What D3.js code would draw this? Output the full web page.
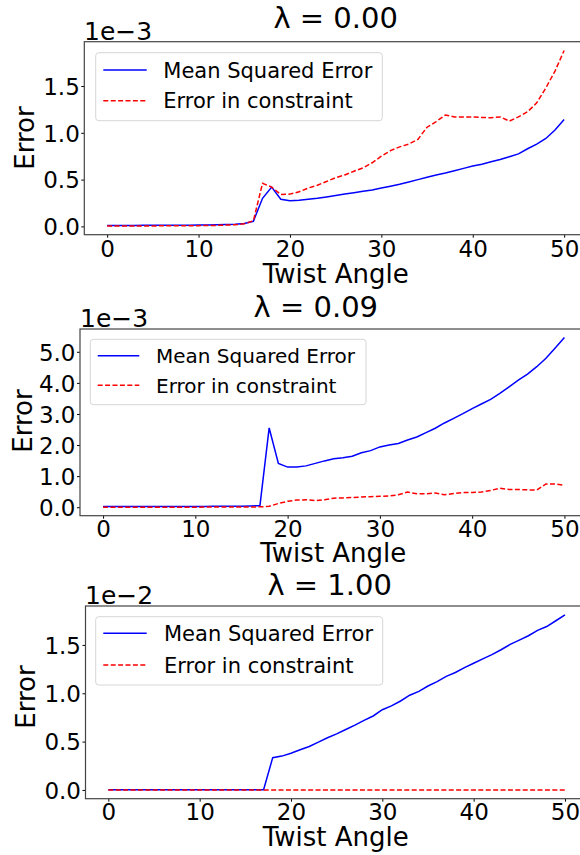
<!DOCTYPE html>
<html>
<head>
<meta charset="utf-8">
<script src="https://cdn.jsdelivr.net/npm/d3@7"></script>
<style>
  body { margin: 0; background: #fff; }
  svg { display: block; font-family: "DejaVu Sans", sans-serif; }
</style>
</head>
<body>
<svg id="chart" width="580" height="855"></svg>
<script>
// twist angles (x values), shared by all three panels
const angles = [0, 1, 2, 3, 4, 5, 6, 7, 8, 9, 10, 11, 12, 13, 14, 15, 16, 17, 18, 19, 20,
    21, 22, 23, 24, 25, 26, 27, 28, 29, 30, 31, 32, 33, 34, 35, 36, 37, 38, 39, 40,
    41, 42, 43, 44, 45, 46, 47, 48, 49, 50];

// lambda = 0.00, values in units of 1e-3
const mse000 = [0.010, 0.010, 0.010, 0.010, 0.011, 0.011, 0.012, 0.012, 0.013, 0.013, 0.014,
    0.015, 0.017, 0.019, 0.022, 0.030, 0.055, 0.300, 0.420, 0.290, 0.275,
    0.280, 0.290, 0.300, 0.315, 0.330, 0.345, 0.360, 0.375, 0.390, 0.410,
    0.430, 0.450, 0.475, 0.500, 0.525, 0.550, 0.570, 0.595, 0.620, 0.645,
    0.665, 0.690, 0.715, 0.745, 0.775, 0.830, 0.880, 0.940, 1.030, 1.143];
const con000 = [0.005, 0.005, 0.005, 0.005, 0.005, 0.005, 0.006, 0.006, 0.006, 0.007, 0.008,
    0.009, 0.011, 0.014, 0.018, 0.028, 0.060, 0.460, 0.420, 0.340, 0.345,
    0.370, 0.410, 0.440, 0.480, 0.520, 0.550, 0.590, 0.625, 0.680, 0.750,
    0.810, 0.850, 0.880, 0.930, 1.060, 1.120, 1.190, 1.170, 1.170, 1.170,
    1.165, 1.160, 1.170, 1.125, 1.170, 1.225, 1.320, 1.480, 1.660, 1.880];

// lambda = 0.09, values in units of 1e-3
const mse009 = [0.020, 0.020, 0.020, 0.020, 0.021, 0.021, 0.022, 0.022, 0.023, 0.024, 0.025,
    0.026, 0.027, 0.029, 0.031, 0.034, 0.040, 0.050, 2.550, 1.410, 1.290,
    1.290, 1.330, 1.410, 1.490, 1.560, 1.590, 1.640, 1.750, 1.820, 1.940,
    2.000, 2.050, 2.160, 2.260, 2.400, 2.540, 2.710, 2.860, 3.010, 3.170,
    3.320, 3.470, 3.660, 3.870, 4.090, 4.280, 4.520, 4.790, 5.120, 5.460];
const con009 = [0.000, 0.000, 0.000, 0.000, 0.001, 0.001, 0.001, 0.001, 0.002, 0.002, 0.002,
    0.003, 0.003, 0.004, 0.005, 0.006, 0.008, 0.012, 0.030, 0.120, 0.190,
    0.230, 0.240, 0.210, 0.240, 0.290, 0.300, 0.310, 0.330, 0.340, 0.350,
    0.360, 0.400, 0.490, 0.430, 0.430, 0.460, 0.400, 0.440, 0.470, 0.470,
    0.490, 0.540, 0.610, 0.570, 0.570, 0.560, 0.550, 0.750, 0.750, 0.700];

// lambda = 1.00, values in units of 1e-2
const mse100 = [0.003, 0.003, 0.003, 0.003, 0.003, 0.003, 0.003, 0.003, 0.003, 0.003, 0.003,
    0.003, 0.003, 0.003, 0.003, 0.003, 0.003, 0.003, 0.334, 0.350, 0.380,
    0.415, 0.450, 0.495, 0.540, 0.580, 0.625, 0.670, 0.720, 0.765, 0.830,
    0.870, 0.920, 0.980, 1.020, 1.075, 1.120, 1.175, 1.215, 1.265, 1.310,
    1.355, 1.400, 1.450, 1.505, 1.550, 1.595, 1.650, 1.690, 1.750, 1.812];
const con100 = [0.000, 0.000, 0.000, 0.000, 0.000, 0.000, 0.000, 0.000, 0.000, 0.000, 0.000,
    0.000, 0.000, 0.000, 0.000, 0.000, 0.000, 0.000, 0.000, 0.000, 0.000,
    0.000, 0.000, 0.000, 0.000, 0.000, 0.000, 0.000, 0.000, 0.000, 0.000,
    0.000, 0.000, 0.000, 0.000, 0.000, 0.000, 0.000, 0.000, 0.000, 0.000,
    0.000, 0.000, 0.000, 0.000, 0.000, 0.000, 0.000, 0.000, 0.000, 0.000];

const xTicks = [0, 10, 20, 30, 40, 50];
const yTicks000 = [0.0, 0.5, 1.0, 1.5];
const yTicks009 = [0.0, 1.0, 2.0, 3.0, 4.0, 5.0];
const yTicks100 = [0.0, 0.5, 1.0, 1.5];
const titles = ["λ = 0.00", "λ = 0.09", "λ = 1.00"];
const offsets = ["1e−3", "1e−3", "1e−2"];
const seriesNames = ["Mean Squared Error", "Error in constraint"];

// layout of each panel
const panels = [
    { mse: mse000, con: con000, yTicks: yTicks000, title: titles[0], offset: offsets[0],
      left: 84.3, right: 587, top: 41.7, bottom: 234.7,
      titleX: 335.7, titleY: 27.7, offX: 84, offY: 40, xtY: 256.7, xlX: 335.7, xlY: 282.7,
      ylX: 34, ylY: 138,
      leg: { x0: 95.7, y0: 52.7, x1: 382.3, y1: 120.7, hx0: 103.3, hx1: 146.7, r0: 70, r1: 100.7, tx: 163.3, fs: 21 } },
    { mse: mse009, con: con009, yTicks: yTicks009, title: titles[1], offset: offsets[1],
      left: 80, right: 587.5, top: 329, bottom: 515.7,
      titleX: 315.8, titleY: 316.7, offX: 80, offY: 327.3, xtY: 536.7, xlX: 333.3, xlY: 561.7,
      ylX: 32, ylY: 421,
      leg: { x0: 90.3, y0: 339.3, x1: 366, y1: 404.7, hx0: 97.7, hx1: 139.3, r0: 355.7, r1: 385.3, tx: 156, fs: 20 } },
    { mse: mse100, con: con100, yTicks: yTicks100, title: titles[2], offset: offsets[2],
      left: 85.5, right: 587.8, top: 606, bottom: 798.7,
      titleX: 329.7, titleY: 595, offX: 85, offY: 604.3, xtY: 820, xlX: 335.7, xlY: 846,
      ylX: 35, ylY: 697,
      leg: { x0: 95.7, y0: 616.7, x1: 382.7, y1: 685, hx0: 103.3, hx1: 146.7, r0: 633.3, r1: 665, tx: 164, fs: 21 } }
];

const svg = d3.select("#chart");
const blue = "#0000ff", red = "#ff0000", dash = "5,2.4";

panels.forEach(function (p) {
    // matplotlib-like 5% margins
    const xPad = (d3.max(angles) - d3.min(angles)) * 0.05;
    const x = d3.scaleLinear()
        .domain([d3.min(angles) - xPad, d3.max(angles) + xPad])
        .range([p.left, p.right]);
    const all = p.mse.concat(p.con);
    const yMin = d3.min(all), yMax = d3.max(all);
    const yPad = (yMax - yMin) * 0.05;
    const y = d3.scaleLinear()
        .domain([yMin - yPad, yMax + yPad])
        .range([p.bottom, p.top]);

    const g = svg.append("g");

    // clip for lines
    const clipId = "clip" + Math.round(p.top);
    svg.append("clipPath").attr("id", clipId)
        .append("rect")
        .attr("x", p.left).attr("y", p.top)
        .attr("width", p.right - p.left).attr("height", p.bottom - p.top);

    const line = d3.line()
        .x(function (d, i) { return x(angles[i]); })
        .y(function (d) { return y(d); });

    g.append("path")
        .datum(p.mse)
        .attr("clip-path", "url(#" + clipId + ")")
        .attr("d", line)
        .attr("fill", "none")
        .attr("stroke", blue)
        .attr("stroke-width", 1.5);

    g.append("path")
        .datum(p.con)
        .attr("clip-path", "url(#" + clipId + ")")
        .attr("d", line)
        .attr("fill", "none")
        .attr("stroke", red)
        .attr("stroke-width", 1.5)
        .attr("stroke-dasharray", dash);

    // X axis
    const xAxis = g.append("g")
        .attr("transform", `translate(0, ${p.bottom})`)
        .call(d3.axisBottom(x).tickValues(xTicks).tickSize(3).tickFormat(d3.format("d")));
    xAxis.select(".domain").remove();
    xAxis.selectAll("text")
        .attr("y", p.xtY - p.bottom).attr("dy", 0)
        .attr("font-size", 23).attr("font-family", "DejaVu Sans").attr("fill", "#000");

    // Y axis
    const yAxis = g.append("g")
        .attr("transform", `translate(${p.left}, 0)`)
        .call(d3.axisLeft(y).tickValues(p.yTicks).tickSize(3).tickPadding(1.5).tickFormat(d3.format(".1f")));
    yAxis.select(".domain").remove();
    yAxis.selectAll("text")
        .attr("dy", "0.36em")
        .attr("font-size", 23).attr("font-family", "DejaVu Sans").attr("fill", "#000");

    // spines
    g.append("rect")
        .attr("x", p.left).attr("y", p.top)
        .attr("width", p.right - p.left).attr("height", p.bottom - p.top)
        .attr("fill", "none").attr("stroke", "#444").attr("stroke-width", 1.2);

    // texts
    g.append("text").attr("x", p.titleX).attr("y", p.titleY)
        .attr("text-anchor", "middle").attr("font-size", 29).text(p.title);
    g.append("text").attr("x", p.offX).attr("y", p.offY)
        .attr("font-size", 25).text(p.offset);
    g.append("text").attr("x", p.xlX).attr("y", p.xlY)
        .attr("text-anchor", "middle").attr("font-size", 26).text("Twist Angle");
    g.append("text")
        .attr("transform", `translate(${p.ylX}, ${p.ylY}) rotate(-90)`)
        .attr("text-anchor", "middle").attr("font-size", 26).text("Error");

    // legend
    const L = p.leg;
    g.append("rect")
        .attr("x", L.x0).attr("y", L.y0)
        .attr("width", L.x1 - L.x0).attr("height", L.y1 - L.y0)
        .attr("rx", 3).attr("fill", "#fff").attr("fill-opacity", 0.8)
        .attr("stroke", "#d6d6d6").attr("stroke-width", 1);
    [[L.r0, blue, null], [L.r1, red, dash]].forEach(function (r, i) {
        g.append("line")
            .attr("x1", L.hx0).attr("x2", L.hx1).attr("y1", r[0]).attr("y2", r[0])
            .attr("stroke", r[1]).attr("stroke-width", 1.5)
            .attr("stroke-dasharray", r[2]);
        g.append("text")
            .attr("x", L.tx).attr("y", r[0]).attr("dy", "0.36em")
            .attr("font-size", L.fs).text(seriesNames[i]);
    });
});
</script>
</body>
</html>
